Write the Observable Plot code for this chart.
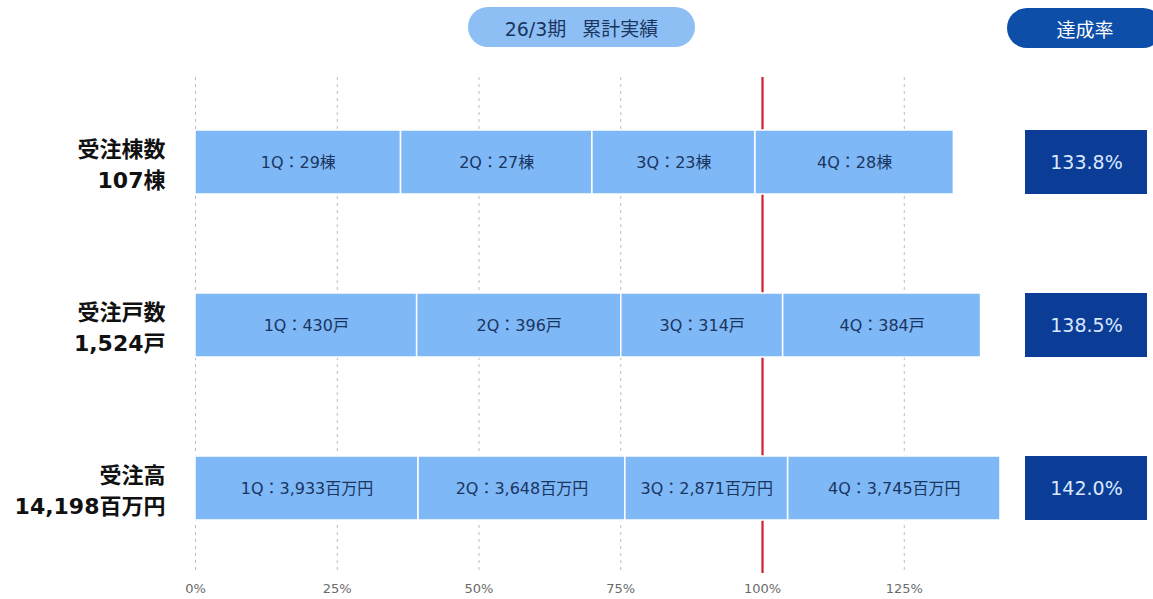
<!DOCTYPE html>
<html lang="ja">
<head>
<meta charset="utf-8">
<script src="https://cdn.jsdelivr.net/npm/d3@7"></script>
<script src="https://cdn.jsdelivr.net/npm/@observablehq/plot@0.6"></script>
<style>
  body { margin: 0; background: #fff; width: 1153px; height: 599px; overflow: hidden;
         font-family: "DejaVu Sans", "Noto Sans CJK JP", sans-serif; }
  #page { position: relative; width: 1153px; height: 599px; }
  #header { position: relative; height: 60px; }
  .pill { position: absolute; display: flex; align-items: center; justify-content: center;
          box-sizing: border-box; height: 40px; border-radius: 20px; }
  #period { left: 468px; top: 7px; width: 227px; background: #8dbff5; color: #1a3560; font-size: 19px; }
  #period span + span { margin-left: 16px; }
  #rateHead { left: 1007px; top: 8px; width: 156px; background: #0d4ea8; color: #fff; font-size: 19px; }
  #charts { display: flex; }
  #charts svg { display: block; }
  g[aria-label="quarter labels"] text { letter-spacing: 1.2px; }
  g[aria-label="rate labels"] text { letter-spacing: 1.8px; }
</style>
</head>
<body>
<div id="page">
  <div id="header">
    <div class="pill" id="period"><span>26/3期</span><span>累計実績</span></div>
    <div class="pill" id="rateHead">達成率</div>
  </div>
  <div id="charts"></div>
</div>
<script>
// Order metrics for the fiscal period ending 3/26, by quarter
const metrics = ["受注棟数", "受注戸数", "受注高"];
const units = ["棟", "戸", "百万円"];
const quarters = ["1Q", "2Q", "3Q", "4Q"];
const buildings = [29, 27, 23, 28];
const households = [430, 396, 314, 384];
const orderAmounts = [3933, 3648, 2871, 3745];
const cumulative = [107, 1524, 14198];      // reported period totals (quarters are rounded)
const targets = [80, 1100, 10000];          // full-period plan for each metric
const gridTicks = [0, 0.25, 0.5, 0.75, 1.25];
const axisTicks = [0, 0.25, 0.5, 0.75, 1, 1.25];
const rateColumn = "達成率";

const series = [buildings, households, orderAmounts];
const fmt = d3.format(",");
const pct = d3.format(".0%");
const pct1 = d3.format(".1%");

const segments = metrics.flatMap((metric, i) =>
  quarters.map((quarter, j) => ({
    metric,
    quarter,
    share: series[i][j] / targets[i],
    label: `${quarter}：${fmt(series[i][j])}${units[i]}`
  }))
);

const totals = metrics.map((metric, i) => ({
  metric,
  rate: cumulative[i] / targets[i],
  title: `${metric}\n${fmt(cumulative[i])}${units[i]}`
}));

const font = `"DejaVu Sans", "Noto Sans CJK JP", sans-serif`;
const yScale = { domain: metrics, paddingInner: 0.61, paddingOuter: 0.323, axis: null };
const frame = { height: 539, marginTop: 17, marginBottom: 26 };

const main = Plot.plot({
  ...frame,
  width: 1015,
  marginLeft: 195,
  marginRight: 3.5,
  style: { fontFamily: font, background: "transparent", overflow: "visible" },
  x: { domain: [0, 1.44], axis: null },
  y: yScale,
  marks: [
    Plot.ruleX(gridTicks, { stroke: "#bdbdbd", strokeDasharray: "3,4", strokeWidth: 1 }),
    Plot.ruleX([1], { stroke: "#d01f2e", strokeWidth: 2.2 }),
    Plot.axisX(axisTicks, {
      anchor: "bottom", tickSize: 0, tickPadding: 10, tickFormat: pct,
      fontSize: 13, fill: "#6b6b6b", label: null
    }),
    Plot.barX(segments, Plot.stackX({
      x: "share", y: "metric", fill: "#7fb8f6", stroke: "#fff", strokeWidth: 1.5
    })),
    Plot.text(segments, Plot.stackX({
      x: "share", y: "metric", text: "label", fill: "#1a3560", fontSize: 16,
      ariaLabel: "quarter labels"
    })),
    Plot.text(totals, {
      y: "metric", text: "title", frameAnchor: "left", dx: -30, textAnchor: "end",
      fontSize: 22, fontWeight: "bold", lineHeight: 1.4, fill: "#111"
    })
  ]
});

const rate = Plot.plot({
  ...frame,
  width: 138,
  marginLeft: 10,
  marginRight: 6,
  style: { fontFamily: font, background: "transparent" },
  x: { domain: [rateColumn], padding: 0, axis: null },
  y: yScale,
  marks: [
    Plot.cell(totals, { x: () => rateColumn, y: "metric", fill: "#0b3d96", inset: 0 }),
    Plot.text(totals, {
      x: () => rateColumn, y: "metric", text: d => pct1(d.rate),
      fill: "#d9e8ff", fontSize: 19, ariaLabel: "rate labels"
    })
  ]
});

document.getElementById("charts").append(main, rate);
</script>
</body>
</html>
